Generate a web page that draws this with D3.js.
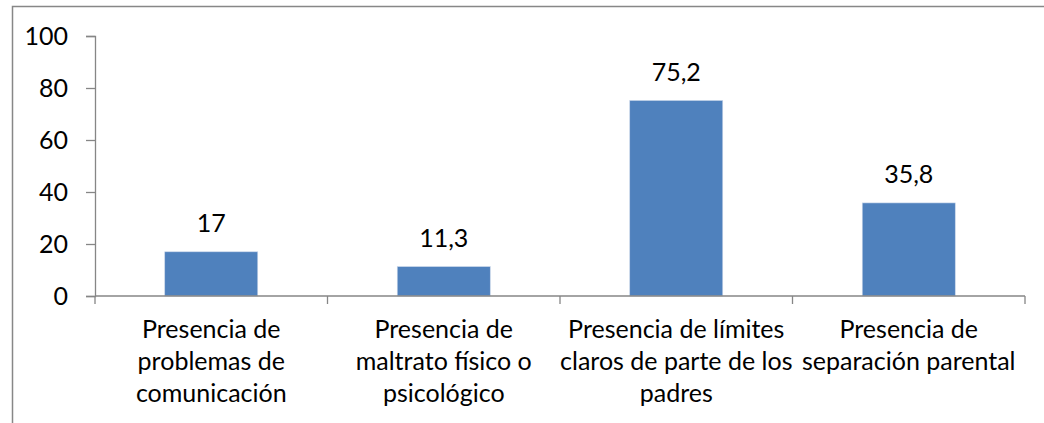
<!DOCTYPE html>
<html>
<head>
<meta charset="utf-8">
<script src="https://cdn.jsdelivr.net/npm/d3@7"></script>
<style>
  html, body { margin: 0; padding: 0; background: #fff; }
  svg { display: block; font-family: Lato, "Open Sans", sans-serif; }
</style>
</head>
<body>
<div id="chart"></div>
<script>
// ---------- Data ----------
const categories = [
  ["Presencia de", "problemas de", "comunicación"],
  ["Presencia de", "maltrato físico o", "psicológico"],
  ["Presencia de límites", "claros de parte de los", "padres"],
  ["Presencia de", "separación parental"]
];
const values = [17, 11.3, 75.2, 35.8];
const valueLabels = ["17", "11,3", "75,2", "35,8"];
const yTicks = [0, 20, 40, 60, 80, 100];

// ---------- Layout ----------
const W = 1044, H = 423;
const plot = { left: 95, right: 1025, top: 36, bottom: 296 };
const fontSize = 25;

const svg = d3.select("#chart").append("svg")
  .attr("width", W)
  .attr("height", H);

// outer chart border (runs past the right/bottom edges)
svg.append("rect")
  .attr("x", 12.5).attr("y", 6.5)
  .attr("width", W + 20).attr("height", H + 20)
  .attr("fill", "none")
  .attr("stroke", "#878787")
  .attr("stroke-width", 1.5);

const x = d3.scaleBand()
  .domain(d3.range(categories.length))
  .range([plot.left, plot.right])
  .paddingInner(0.6)
  .paddingOuter(0.3);

const xBand = d3.scaleBand()
  .domain(d3.range(categories.length))
  .range([plot.left, plot.right]);

const y = d3.scaleLinear()
  .domain([0, 100])
  .range([plot.bottom, plot.top]);

// bars
svg.append("g")
  .selectAll("rect")
  .data(values)
  .join("rect")
  .attr("x", (d, i) => x(i))
  .attr("y", d => y(d))
  .attr("width", x.bandwidth())
  .attr("height", d => y(0) - y(d))
  .attr("fill", "#4F81BD")
  .attr("stroke", "#C9D6EA")
  .attr("stroke-width", 0.6);

// value labels
svg.append("g")
  .selectAll("text")
  .data(values)
  .join("text")
  .attr("x", (d, i) => x(i) + x.bandwidth() / 2)
  .attr("y", d => y(d) - 19.5)
  .attr("text-anchor", "middle")
  .style("font-size", fontSize + "px")
  .attr("fill", "#000")
  .text((d, i) => valueLabels[i]);

// y axis
const yAxis = svg.append("g")
  .attr("transform", `translate(${plot.left},0)`)
  .call(d3.axisLeft(y).tickValues(yTicks).tickSize(9).tickPadding(18).tickFormat(d3.format("d")));
yAxis.select(".domain").attr("stroke", "#868686").attr("stroke-width", 1.3);
yAxis.selectAll(".tick line").attr("stroke", "#868686").attr("stroke-width", 1.3);
yAxis.selectAll(".tick text")
  .style("font-size", fontSize + "px")
  .style("font-family", "Lato, sans-serif")
  .attr("fill", "#000");

// x axis line + category boundary ticks
const xg = svg.append("g");
xg.append("line")
  .attr("x1", plot.left).attr("x2", plot.right)
  .attr("y1", y(0)).attr("y2", y(0))
  .attr("stroke", "#868686").attr("stroke-width", 1.3);
const bounds = xBand.domain().map(i => xBand(i)).concat([plot.right]);
xg.selectAll("line.tk")
  .data(bounds)
  .join("line")
  .attr("class", "tk")
  .attr("x1", d => d).attr("x2", d => d)
  .attr("y1", y(0)).attr("y2", y(0) + 8)
  .attr("stroke", "#868686").attr("stroke-width", 1.3);

// category labels (multi-line)
const catG = svg.append("g")
  .selectAll("text")
  .data(categories)
  .join("text")
  .attr("text-anchor", "middle")
  .style("font-size", fontSize + "px")
  .attr("fill", "#000")
  .attr("transform", (d, i) => `translate(${xBand(i) + xBand.bandwidth() / 2},0)`);

catG.selectAll("tspan")
  .data(d => d)
  .join("tspan")
  .attr("x", 0)
  .attr("y", (d, j) => 338 + j * 32)
  .text(d => d);
</script>
</body>
</html>
